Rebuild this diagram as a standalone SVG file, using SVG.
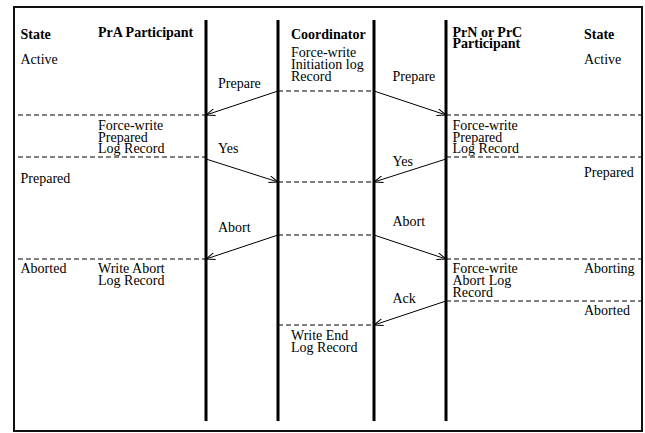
<svg xmlns="http://www.w3.org/2000/svg" width="645" height="433" viewBox="0 0 645 433">
<style>
text{font-family:"Liberation Serif","Times New Roman",serif;font-size:14px;fill:#000}
.b{font-weight:bold}
.life{stroke:#000;stroke-width:3;fill:none}
.dash{stroke:#000;stroke-width:1;stroke-dasharray:5,3;fill:none}
.msg{stroke:#000;stroke-width:1;fill:none;marker-end:url(#arr)}
</style>
<defs>
<marker id="arr" markerUnits="userSpaceOnUse" markerWidth="12" markerHeight="10" refX="9" refY="4" orient="auto">
<path d="M0,0.5 L9,4 L0,7.5" fill="none" stroke="#000" stroke-width="1"/>
</marker>
</defs>
<rect x="14" y="7" width="628" height="424" fill="#fff" stroke="#111" stroke-width="2"/>
<g id="state-left">
<text class="b" x="20.5" y="39">State</text>
<text x="20.5" y="64">Active</text>
<text x="20.5" y="183">Prepared</text>
<text x="20.5" y="273">Aborted</text>
</g>
<g id="pra-participant">
<line class="life" x1="206" y1="20" x2="206" y2="421"/>
<text class="b" x="98" y="37">PrA Participant</text>
<text x="98" y="130">Force-write</text>
<text x="98" y="141.5">Prepared</text>
<text x="98" y="153">Log Record</text>
<text x="98" y="273">Write Abort</text>
<text x="98" y="285">Log Record</text>
</g>
<g id="coordinator">
<line class="life" x1="278" y1="20" x2="278" y2="421"/>
<text class="b" x="291" y="39">Coordinator</text>
<text x="291" y="57">Force-write</text>
<text x="291" y="69">Initiation log</text>
<text x="291" y="80.5">Record</text>
<text x="291" y="340">Write End</text>
<text x="291" y="352">Log Record</text>
</g>
<g id="prn-participant">
<line class="life" x1="374" y1="20" x2="374" y2="421"/>
<line class="life" x1="446" y1="20" x2="446" y2="421"/>
<text class="b" x="452.5" y="37">PrN or PrC</text>
<text class="b" x="452.5" y="48">Participant</text>
<text x="452.5" y="130">Force-write</text>
<text x="452.5" y="141.5">Prepared</text>
<text x="452.5" y="153">Log Record</text>
<text x="452.5" y="273">Force-write</text>
<text x="452.5" y="285">Abort Log</text>
<text x="452.5" y="297">Record</text>
</g>
<g id="state-right">
<text class="b" x="584" y="39">State</text>
<text x="584" y="64">Active</text>
<text x="584" y="177">Prepared</text>
<text x="584" y="273">Aborting</text>
<text x="584" y="315">Aborted</text>
</g>
<g id="connectors">
<line class="dash" x1="18" y1="115" x2="206" y2="115"/>
<line class="dash" x1="18" y1="157" x2="206" y2="157"/>
<line class="dash" x1="18" y1="259" x2="206" y2="259"/>
<line class="dash" x1="278" y1="91" x2="374" y2="91"/>
<line class="dash" x1="278" y1="182" x2="374" y2="182"/>
<line class="dash" x1="278" y1="235" x2="374" y2="235"/>
<line class="dash" x1="278" y1="325" x2="374" y2="325"/>
<line class="dash" x1="446" y1="115" x2="641" y2="115"/>
<line class="dash" x1="446" y1="157" x2="641" y2="157"/>
<line class="dash" x1="446" y1="259" x2="641" y2="259"/>
<line class="dash" x1="446" y1="301" x2="641" y2="301"/>
<line class="msg" x1="278" y1="91" x2="206" y2="115"/>
<line class="msg" x1="374" y1="91" x2="446" y2="115"/>
<line class="msg" x1="206" y1="159" x2="278" y2="182"/>
<line class="msg" x1="446" y1="159" x2="374" y2="182"/>
<line class="msg" x1="278" y1="235" x2="206" y2="259"/>
<line class="msg" x1="374" y1="235" x2="446" y2="259"/>
<line class="msg" x1="446" y1="301" x2="374" y2="325"/>
<text x="218" y="88">Prepare</text>
<text x="392.5" y="81">Prepare</text>
<text x="218" y="153">Yes</text>
<text x="392.5" y="166">Yes</text>
<text x="218" y="232">Abort</text>
<text x="392.5" y="226">Abort</text>
<text x="392.5" y="303">Ack</text>
</g>
</svg>
